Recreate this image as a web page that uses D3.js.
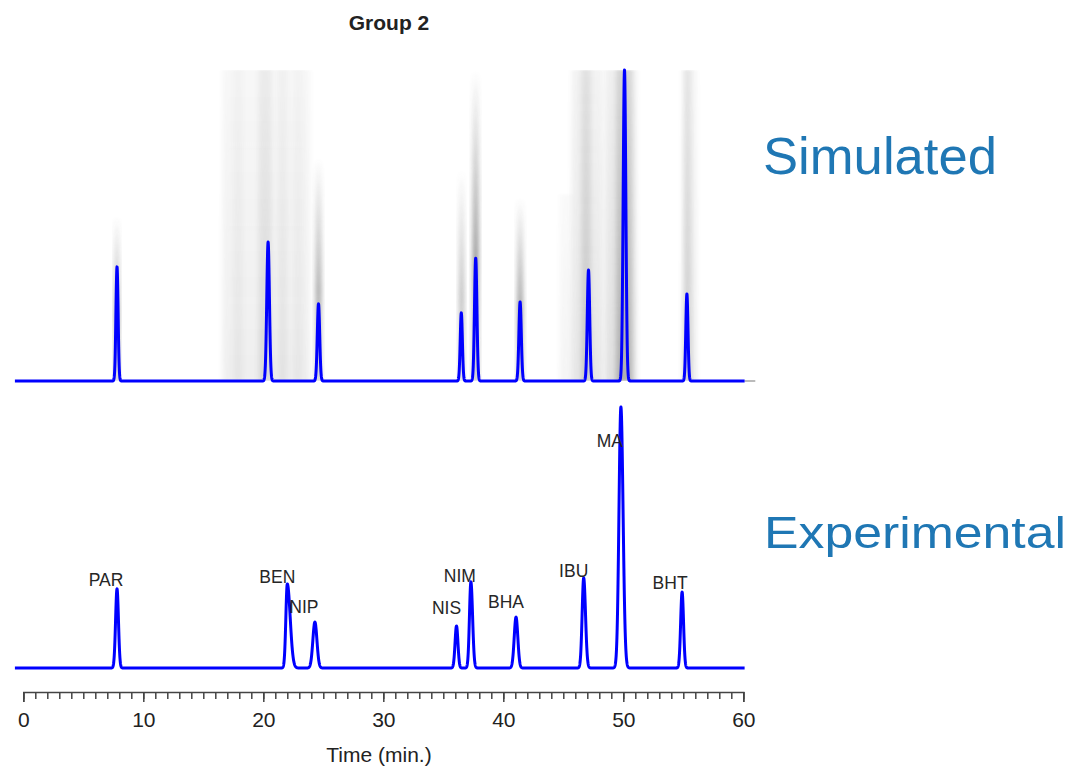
<!DOCTYPE html>
<html><head><meta charset="utf-8">
<script src="https://cdn.jsdelivr.net/npm/d3@7"></script>
<style>
body{margin:0;background:#fff}
text{font-family:"Liberation Sans",Arial,Helvetica,sans-serif}
</style></head>
<body><svg id="c" width="1073" height="768"></svg>
<script>
// ---------------- data ----------------
const compounds   = ["PAR","BEN","NIP","NIS","NIM","BHA","IBU","MA","BHT"];
// simulated chromatogram peaks (time in min, relative height, peak sigma in min)
const simTime     = [7.81, 20.4, 24.6, 36.5, 37.7, 41.4, 47.1, 50.1, 55.3];
const simHeight   = [0.367, 0.447, 0.248, 0.219, 0.395, 0.254, 0.357, 1.0, 0.28];
const simSigma    = [0.09, 0.11, 0.10, 0.09, 0.10, 0.10, 0.10, 0.11, 0.09];
// experimental chromatogram peaks
const expTime     = [7.81, 22.0, 24.3, 36.1, 37.3, 41.06, 46.7, 49.8, 54.9];
const expHeight   = [0.303, 0.322, 0.176, 0.161, 0.33, 0.195, 0.345, 1.0, 0.291];
const expSigmaL   = [0.12, 0.12, 0.17, 0.12, 0.12, 0.15, 0.13, 0.16, 0.12];
const expSigmaR   = [0.12, 0.24, 0.17, 0.12, 0.14, 0.15, 0.15, 0.18, 0.12];
// grey uncertainty streaks in the simulated panel
const streakStart = [7.6, 16.6, 17.5, 19.6, 21.2, 22.5, 24.35, 36.3, 37.45, 41.15, 44.7, 45.7, 46.5, 48.5, 49.4, 54.9, 55.1];
const streakEnd   = [8.0, 23.9, 18.3, 20.7, 22.0, 23.3, 24.85, 36.75, 37.95, 41.65, 45.7, 48.3, 47.3, 51.1, 50.7, 56.1, 55.6];
const streakTop   = [0.53, 1, 1, 1, 1, 1, 0.72, 0.68, 1, 0.59, 0.6, 1, 1, 1, 1, 1, 1];
const streakShade = [0.5, 0.09, 0.06, 0.14, 0.08, 0.05, 0.45, 0.35, 0.55, 0.5, 0.06, 0.14, 0.22, 0.18, 0.35, 0.12, 0.22];
const streakKind  = ["fade","band","band","band","band","band","fade","fade","fade","fade","band","band","band","band","band","band","band"];
const majorTicks  = [0, 10, 20, 30, 40, 50, 60];
const minorTicks  = d3.range(0, 61, 1);
// label placement relative to experimental peak apex (px)
const labelOffset = [[-11,-3],[-10,-1],[-11,-9],[-10,-12],[-11,0],[-10,-9],[-10,-1],[-11,40],[-12,-3]];

// ---------------- layout ----------------
const svg = d3.select("#c");
const x = d3.scaleLinear().domain([0, 60]).range([23.3, 743.3]);
const yTop = d3.scaleLinear().domain([0, 1]).range([381, 70]);
const yBot = d3.scaleLinear().domain([0, 1]).range([668, 407]);
const blue = "#0000ff";

const defs = svg.append("defs");
const gFade = defs.append("linearGradient").attr("id","fade").attr("x1",0).attr("y1",1).attr("x2",0).attr("y2",0);
gFade.append("stop").attr("offset",0).attr("stop-color","#444").attr("stop-opacity",0.55);
gFade.append("stop").attr("offset",0.4).attr("stop-color","#444").attr("stop-opacity",1);
gFade.append("stop").attr("offset",1).attr("stop-color","#444").attr("stop-opacity",0);
const gBand = defs.append("linearGradient").attr("id","band").attr("x1",0).attr("y1",1).attr("x2",0).attr("y2",0);
gBand.append("stop").attr("offset",0).attr("stop-color","#555").attr("stop-opacity",1);
gBand.append("stop").attr("offset",0.5).attr("stop-color","#555").attr("stop-opacity",0.75);
gBand.append("stop").attr("offset",1).attr("stop-color","#555").attr("stop-opacity",0.5);
defs.append("filter").attr("id","blur").attr("x","-50%").attr("width","200%")
  .append("feGaussianBlur").attr("stdDeviation","2.5 1");
defs.append("clipPath").attr("id","topclip").append("rect")
  .attr("x",0).attr("y",yTop(1)).attr("width",770).attr("height",yTop(0)-yTop(1));

// title
svg.append("text").attr("x",389).attr("y",30).attr("text-anchor","middle")
  .attr("font-size",21).attr("font-weight","bold").attr("fill","#222").text("Group 2");

// streaks
const sg = svg.append("g").attr("clip-path","url(#topclip)");
sg.selectAll("rect").data(streakStart).join("rect")
  .attr("x",(d,i)=>x(d)).attr("width",(d,i)=>x(streakEnd[i])-x(d))
  .attr("y",(d,i)=>yTop(streakTop[i])).attr("height",(d,i)=>yTop(0)-yTop(streakTop[i]))
  .attr("fill",(d,i)=>`url(#${streakKind[i]})`).attr("opacity",(d,i)=>streakShade[i])
  .attr("filter","url(#blur)");

// chromatogram curves built from the peak tables
const grid = d3.range(-0.7, 60.12, 0.01);
function simVal(t){let s=0;for(let i=0;i<simTime.length;i++){const z=(t-simTime[i])/simSigma[i];s+=simHeight[i]*Math.exp(-0.5*z*z);}return s;}
function expVal(t){let s=0;for(let i=0;i<expTime.length;i++){const sg=t<expTime[i]?expSigmaL[i]:expSigmaR[i];const z=(t-expTime[i])/sg;s+=expHeight[i]*Math.exp(-0.5*z*z);}return s;}

svg.append("line").attr("x1",x(60.1)).attr("x2",x(61)).attr("y1",yTop(0)).attr("y2",yTop(0))
  .attr("stroke","#bbb").attr("stroke-width",2);

svg.append("path").datum(grid)
  .attr("d", d3.line().x(t=>x(t)).y(t=>yTop(simVal(t))))
  .attr("fill","none").attr("stroke",blue).attr("stroke-width",3).attr("stroke-linejoin","round");
svg.append("path").datum(grid)
  .attr("d", d3.line().x(t=>x(t)).y(t=>yBot(expVal(t))))
  .attr("fill","none").attr("stroke",blue).attr("stroke-width",3).attr("stroke-linejoin","round");

// peak labels
svg.append("g").selectAll("text").data(compounds).join("text")
  .attr("x",(d,i)=>x(expTime[i])+labelOffset[i][0])
  .attr("y",(d,i)=>yBot(expHeight[i])+labelOffset[i][1])
  .attr("text-anchor","middle").attr("font-size",17.5).attr("fill","#262626").text(d=>d);

// axis
const axY = 692;
const minorAxis = svg.append("g").attr("transform",`translate(0,${axY})`)
  .call(d3.axisBottom(x).tickValues(minorTicks).tickSize(7).tickSizeOuter(10).tickFormat(""));
const majorAxis = svg.append("g").attr("transform",`translate(0,${axY})`)
  .call(d3.axisBottom(x).tickValues(majorTicks).tickSize(10).tickSizeOuter(10));
[minorAxis, majorAxis].forEach(g=>{
  g.selectAll("path,line").attr("stroke","#444").attr("stroke-width",1.5);
});
majorAxis.select(".domain").remove();
minorAxis.selectAll("text").remove();
majorAxis.selectAll("text").attr("y",35).attr("dy",0).attr("font-size",21)
  .attr("fill","#222").attr("font-family","'Liberation Sans',Arial,sans-serif");

svg.append("text").attr("x",379).attr("y",762).attr("text-anchor","middle")
  .attr("font-size",21).attr("fill","#222").text("Time (min.)");

// panel names
svg.append("text").attr("x",763).attr("y",174).attr("font-size",52)
  .attr("textLength",234).attr("lengthAdjust","spacingAndGlyphs")
  .attr("fill","#1f77b4").text("Simulated");
svg.append("text").attr("x",764).attr("y",548).attr("font-size",45)
  .attr("textLength",302).attr("lengthAdjust","spacingAndGlyphs")
  .attr("fill","#1f77b4").text("Experimental");
</script></body></html>
